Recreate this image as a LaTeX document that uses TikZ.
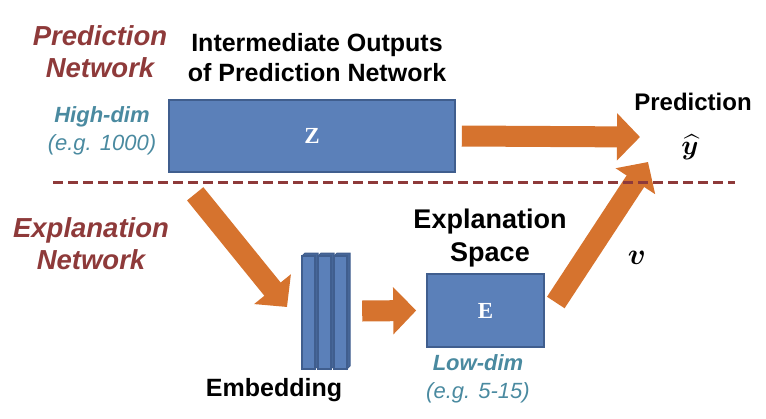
\documentclass[tikz,border=0pt]{standalone}
\usepackage{fontspec}
\usepackage{graphicx}
\usepackage{amsmath}
\usepackage{bm}
\setmainfont{Liberation Sans}
\newfontfamily\boxfont{Liberation Serif}
\usetikzlibrary{arrows.meta,positioning}

\definecolor{arroworange}{RGB}{214,115,46}
\definecolor{boxblue}{RGB}{91,128,185}
\definecolor{boxedge}{RGB}{64,94,142}
\definecolor{barside}{RGB}{70,102,152}
\definecolor{netred}{RGB}{142,58,58}
\definecolor{dimteal}{RGB}{74,138,160}

\begin{document}
\begin{tikzpicture}[x=1pt, y=-1pt,
  box/.style={rectangle, draw=boxedge, fill=boxblue, line width=1.6pt, inner sep=0pt, text=white, font=\boxfont\bfseries\fontsize{23}{26}\selectfont},
  fatarrow/.style={draw=arroworange, line width=21pt, -{Triangle[width=46pt, length=23pt]}},
  netlabel/.style={align=center, text=netred, font=\bfseries\itshape\fontsize{27.5}{32}\selectfont},
  title/.style={align=center, font=\bfseries\fontsize{25}{30}\selectfont},
  dimlabel/.style={align=center, text=dimteal, font=\itshape\fontsize{22}{28}\selectfont}]

  \useasboundingbox (0,0) rectangle (766,418);

  % boxes
  \node[box, minimum width=286pt, minimum height=72pt] (z) at (312,136) {Z};
  \node[box, minimum width=117pt, minimum height=73pt] (e) at (485.5,310.5) {E};
  \node[minimum width=50pt, minimum height=116pt, inner sep=0pt] (emb) at (326,311) {};
  \foreach \i in {0,1,2} {
    \pgfmathsetmacro{\bx}{302+16*\i}
    \draw[boxedge, fill=barside, line width=1pt] (\bx,256) -- (\bx+3,253) -- (\bx+16,253) -- (\bx+16,366) -- (\bx+13,369) -- cycle;
    \draw[boxedge, fill=boxblue, line width=1.6pt] (\bx,256) rectangle (\bx+13,369);
  }

  \node[coordinate] (predin) at (640,137) {};
  \node[coordinate] (predin2) at (648,162) {};
  \node[coordinate] (embin) at (287,307) {};

  % labels
  \node[netlabel] (prednet) at (100,52) {Prediction\\Network};
  \node[netlabel] (explnet) at (91,244) {Explanation\\Network};
  \node[title] (ztitle) at (317,58) {Intermediate Outputs\\of Prediction Network};
  \node[title, font=\bfseries\fontsize{27}{33}\selectfont] (etitle) at (490,238) {Explanation\\Space};
  \node[title] (embtitle) at (274,390) {Embedding};
  \node[title, inner sep=1pt, font=\bfseries\fontsize{24}{30}\selectfont] (predtitle) at (693,102) {Prediction};
  \node[inner sep=0pt, font=\fontsize{24}{28}\selectfont] (yhat) at (690,147) {\scalebox{1.1}{$\bm{\widehat{y}}$}};
  \node[inner sep=0pt, font=\fontsize{24}{28}\selectfont] (v) at (637,258) {\scalebox{1.2}{$\bm{v}$}};
  \node[dimlabel] (highdim) at (102,131) {\textbf{High-dim}\\(e.g. 1000)};
  \node[dimlabel] (lowdim) at (478,379) {\textbf{Low-dim}\\(e.g. 5-15)};

  % arrows
  \draw[fatarrow] ([xshift=6pt]z.east) -- (predin);
  \draw[fatarrow] ([shift={(27,21)}]z.south west) -- (embin);
  \draw[fatarrow] ([xshift=11pt]emb.east) -- ([xshift=-10pt]e.west);
  \draw[fatarrow] ([shift={(11,-8)}]e.east) -- (predin2);

  \draw[netred, line width=3pt, dash pattern=on 10pt off 5pt] (53,182) -- (735,182);
\end{tikzpicture}
\end{document}
